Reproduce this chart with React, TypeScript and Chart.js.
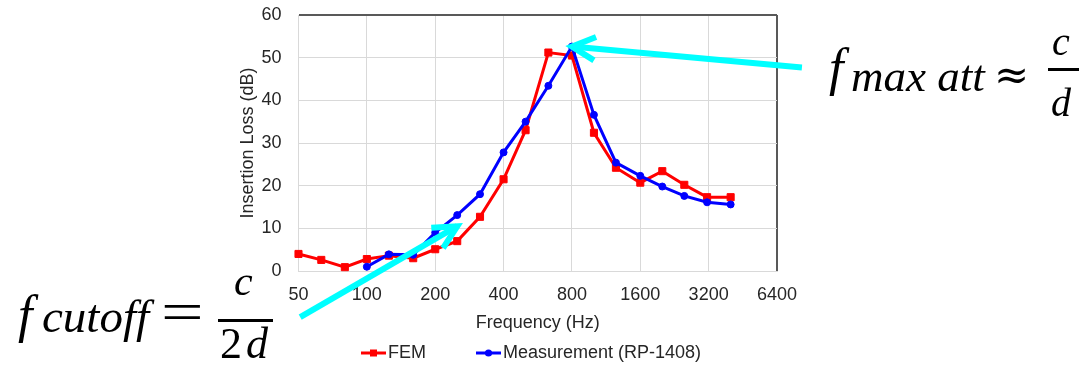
import React, { useEffect, useRef } from 'react';
import { Chart, registerables } from 'chart.js';

Chart.register(...registerables);

// ---- data ----
const FREQ_HZ = [50, 63, 80, 100, 125, 160, 200, 250, 315, 400, 500, 630, 800, 1000, 1250, 1600, 2000, 2500, 3150, 4000];
const FEM_DB = [4.0, 2.6, 0.9, 2.8, 3.6, 3.0, 5.1, 7.0, 12.7, 21.5, 33.0, 51.2, 50.5, 32.4, 24.2, 20.7, 23.4, 20.2, 17.3, 17.3];
const MEAS_FREQ_HZ = [100, 125, 160, 200, 250, 315, 400, 500, 630, 800, 1000, 1250, 1600, 2000, 2500, 3150, 4000];
const MEAS_DB = [1.0, 3.9, 3.8, 9.0, 13.1, 18.0, 27.8, 35.0, 43.4, 52.6, 36.6, 25.4, 22.3, 19.8, 17.6, 16.1, 15.6];
const X_TICKS = [50, 100, 200, 400, 800, 1600, 3200, 6400];
const Y_MIN = 0;
const Y_MAX = 60;
const Y_STEP = 10;
const SERIES_LABELS = ['FEM', 'Measurement (RP-1408)'];
const X_TITLE = 'Frequency (Hz)';
const Y_TITLE = 'Insertion Loss (dB)';
// annotation arrow tips (data coordinates)
const MAX_ATT_TIP = { x: 800, y: 52.6 };
const CUTOFF_TIP = { x: 250, y: 10.5 };

const SANS = "'Liberation Sans', Arial, sans-serif";
const TEXT = '#262626';
const GRID = '#D9D9D9';
const FRAME = '#595959';
const RED = '#FF0000';
const BLUE = '#0000FF';
const CYAN = '#00FFFF';

function makeSymbol(color: string, square: boolean): HTMLCanvasElement {
  const c = document.createElement('canvas');
  c.width = 72;
  c.height = 12;
  const g = c.getContext('2d')!;
  g.strokeStyle = color;
  g.fillStyle = color;
  g.lineWidth = 3;
  g.beginPath();
  g.moveTo(47, 6);
  g.lineTo(72, 6);
  g.stroke();
  if (square) {
    g.fillRect(56, 2.5, 7, 7);
  } else {
    g.beginPath();
    g.arc(59.5, 6, 3.6, 0, Math.PI * 2);
    g.fill();
  }
  return c;
}

const arrowPlugin = {
  id: 'arrowAnnotations',
  afterDraw(chart: any) {
    const { ctx } = chart;
    const xs = chart.scales.x;
    const ys = chart.scales.y;
    const draw = (tipX: number, tipY: number, dx: number, dy: number) => {
      const ang = Math.atan2(dy, dx);
      const wing = 26;
      const spread = 0.47;
      ctx.save();
      ctx.strokeStyle = CYAN;
      ctx.lineWidth = 6;
      ctx.lineCap = 'butt';
      ctx.lineJoin = 'miter';
      ctx.beginPath();
      ctx.moveTo(tipX + dx, tipY + dy);
      ctx.lineTo(tipX, tipY);
      ctx.stroke();
      ctx.beginPath();
      ctx.moveTo(tipX + wing * Math.cos(ang - spread), tipY + wing * Math.sin(ang - spread));
      ctx.lineTo(tipX, tipY);
      ctx.lineTo(tipX + wing * Math.cos(ang + spread), tipY + wing * Math.sin(ang + spread));
      ctx.stroke();
      ctx.restore();
    };
    draw(xs.getPixelForValue(MAX_ATT_TIP.x), ys.getPixelForValue(MAX_ATT_TIP.y), 230, 21);
    draw(xs.getPixelForValue(CUTOFF_TIP.x), ys.getPixelForValue(CUTOFF_TIP.y), -157, 91);
  },
};

const BASE: Record<string, number> = { 'Liberation Serif': 0.8375, 'DejaVu Serif': 0.846 };

function T(props: { text: string; left: number; base: number; size: number; italic?: boolean; family?: string; sx?: number }) {
  const family = props.family || 'Liberation Serif';
  const ratio = BASE[family] || 0.84;
  return (
    <span
      style={{
        position: 'absolute',
        left: props.left,
        top: props.base - ratio * props.size,
        fontFamily: `'${family}', serif`,
        fontStyle: props.italic === false ? 'normal' : 'italic',
        fontSize: props.size,
        lineHeight: `${props.size}px`,
        whiteSpace: 'pre',
        color: '#000',
        transform: props.sx ? `scaleX(${props.sx})` : undefined,
        transformOrigin: 'left center',
      }}
    >
      {props.text}
    </span>
  );
}

function Bar(props: { left: number; top: number; width: number }) {
  return <div style={{ position: 'absolute', left: props.left, top: props.top, width: props.width, height: 3, background: '#000' }} />;
}

export default function App() {
  const ref = useRef<HTMLCanvasElement>(null);

  useEffect(() => {
    const symbols = [makeSymbol(RED, true), makeSymbol(BLUE, false)];
    const chart = new Chart(ref.current!, {
      type: 'line',
      data: {
        datasets: [
          {
            label: SERIES_LABELS[0],
            data: FREQ_HZ.map((f, i) => ({ x: f, y: FEM_DB[i] })),
            borderColor: RED,
            backgroundColor: RED,
            borderWidth: 3,
            pointStyle: 'rect',
            pointRadius: 5,
            pointBorderWidth: 1,
            tension: 0,
            clip: false,
            order: 1,
          },
          {
            label: SERIES_LABELS[1],
            data: MEAS_FREQ_HZ.map((f, i) => ({ x: f, y: MEAS_DB[i] })),
            borderColor: BLUE,
            backgroundColor: BLUE,
            borderWidth: 3,
            pointStyle: 'circle',
            pointRadius: 3.5,
            pointBorderWidth: 1,
            tension: 0,
            clip: false,
            order: 0,
          },
        ],
      },
      options: {
        responsive: false,
        animation: false,
        events: [],
        layout: { padding: { left: 245, right: 308, top: 15, bottom: 6 } },
        scales: {
          x: {
            type: 'logarithmic',
            position: 'bottom',
            min: 50,
            max: 6400,
            afterBuildTicks: (scale: any) => {
              scale.ticks = X_TICKS.map((v) => ({ value: v }));
            },
            afterFit: (scale: any) => {
              scale.height = 63;
            },
            ticks: {
              autoSkip: false,
              maxRotation: 0,
              padding: 13,
              color: TEXT,
              font: { family: SANS, size: 18 },
              callback: (v: any) => String(v),
            },
            grid: {
              drawTicks: false,
              color: (c: any) => (c.tick && c.tick.value === 6400 ? FRAME : GRID),
              lineWidth: (c: any) => (c.tick && c.tick.value === 6400 ? 2 : 1),
            },
            border: { color: GRID, width: 1 },
            title: {
              display: true,
              text: X_TITLE,
              color: TEXT,
              font: { family: SANS, size: 18 },
              padding: { top: 0, bottom: 0 },
            },
          },
          y: {
            type: 'linear',
            min: Y_MIN,
            max: Y_MAX,
            afterFit: (scale: any) => {
              scale.width = 53.5;
            },
            ticks: {
              stepSize: Y_STEP,
              padding: 4,
              color: TEXT,
              font: { family: SANS, size: 18 },
            },
            grid: {
              drawTicks: true,
              tickLength: 13,
              tickColor: 'rgba(0,0,0,0)',
              color: (c: any) => (c.tick && c.tick.value === Y_MAX ? FRAME : GRID),
              lineWidth: (c: any) => (c.tick && c.tick.value === Y_MAX ? 2 : 1),
            },
            border: { color: GRID, width: 1 },
            title: {
              display: true,
              text: Y_TITLE,
              color: TEXT,
              font: { family: SANS, size: 18 },
              padding: { top: -8, bottom: 0 },
            },
          },
        },
        plugins: {
          title: { display: false },
          tooltip: { enabled: false },
          legend: {
            position: 'bottom',
            maxHeight: 30,
            labels: {
              usePointStyle: true,
              pointStyleWidth: 58,
              padding: 10,
              color: TEXT,
              font: { family: SANS, size: 18 },
              sort: (a: any, b: any) => a.datasetIndex - b.datasetIndex,
              generateLabels: (ch: any) => {
                const items = (Chart.defaults as any).plugins.legend.labels.generateLabels(ch);
                items.forEach((it: any) => {
                  it.pointStyle = symbols[it.datasetIndex];
                });
                return items;
              },
            },
          },
        },
      } as any,
      plugins: [arrowPlugin],
    });
    return () => chart.destroy();
  }, []);

  return (
    <div style={{ position: 'absolute', left: 0, top: 0, width: 1085, height: 370, overflow: 'hidden', background: '#fff' }}>
      <canvas ref={ref} width={1085} height={370} style={{ position: 'absolute', left: 0, top: 0 }} />
      {/* f_cutoff = c / 2d */}
      <T text="f" left={18} base={333} size={52} />
      <T text="cutoff" left={42} base={332} size={47} />
      <T text="=" left={161} base={331} size={56} italic={false} sx={1.35} />
      <T text="c" left={234} base={295} size={42} />
      <Bar left={218} top={318.5} width={55} />
      <T text="2" left={220} base={359} size={44} italic={false} />
      <T text="d" left={246} base={359} size={44} />
      {/* f_max att ≈ c / d */}
      <T text="f" left={829} base={86} size={52} />
      <T text="max att" left={851} base={92} size={45} />
      <T text="≈" left={994} base={90} size={42} italic={false} family="DejaVu Serif" />
      <T text="c" left={1052} base={55} size={40} />
      <Bar left={1048} top={68} width={31} />
      <T text="d" left={1051} base={116} size={40} />
    </div>
  );
}
